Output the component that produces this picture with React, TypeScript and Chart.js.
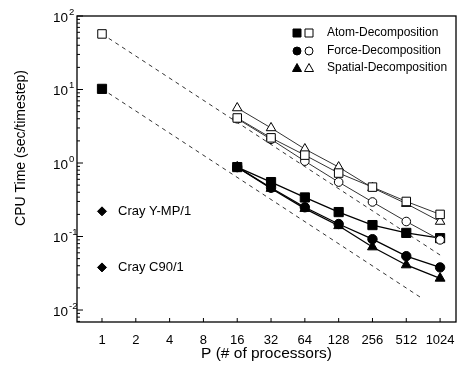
import React, { useEffect, useRef } from "react";
import { Chart, registerables } from "chart.js";
Chart.register(...registerables);

// ---- data ----
const procs = [16, 32, 64, 128, 256, 512, 1024];
const atomSmall = [0.88, 0.55, 0.34, 0.215, 0.143, 0.112, 0.095];
const forceSmall = [0.88, 0.46, 0.25, 0.148, 0.092, 0.054, 0.038];
const spatialSmall = [0.88, 0.45, 0.24, 0.14, 0.072, 0.041, 0.027];
const atomLarge = [4.1, 2.2, 1.28, 0.73, 0.47, 0.3, 0.2];
const forceLarge = [4.0, 2.1, 1.06, 0.55, 0.295, 0.16, 0.09];
const spatialLarge = [5.6, 3.0, 1.55, 0.88, 0.46, 0.28, 0.16];
const serialProcs = [1];
const atomSmallSerial = [10.2];
const atomLargeSerial = [57];
const crayLabels = ["Cray Y-MP/1", "Cray C90/1"];
const crayProcs = [1, 1];
const crayTimes = [0.22, 0.038];
const idealLargeP = [1, 1024];
const idealLargeT = [57, 0.056];
const idealSmallP = [1, 680];
const idealSmallT = [10.2, 0.015];
const xTicks = [1, 2, 4, 8, 16, 32, 64, 128, 256, 512, 1024];
const yTickExps = [-2, -1, 0, 1, 2];
const legendLabels = ["Atom-Decomposition", "Force-Decomposition", "Spatial-Decomposition"];
const legendStyles = ["rect", "circle", "triangle"];
const xTitle = "P (# of processors)";
const yTitle = "CPU Time (sec/timestep)";

const FONT = '"Liberation Sans", Arial, Helvetica, sans-serif';

const pts = (xs: number[], ys: number[]) => xs.map((x, i) => ({ x, y: ys[i] }));

function drawMarker(ctx: CanvasRenderingContext2D, style: string, x: number, y: number, filled: boolean) {
  ctx.save();
  ctx.beginPath();
  if (style === "rect") {
    ctx.rect(x - 4, y - 4, 8, 8);
  } else if (style === "circle") {
    ctx.arc(x, y, 4, 0, Math.PI * 2);
  } else {
    ctx.moveTo(x, y - 4.5);
    ctx.lineTo(x + 4.5, y + 3.5);
    ctx.lineTo(x - 4.5, y + 3.5);
    ctx.closePath();
  }
  ctx.fillStyle = filled ? "#000" : "#fff";
  ctx.fill();
  ctx.lineWidth = 1;
  ctx.strokeStyle = "#000";
  ctx.stroke();
  ctx.restore();
}

const decor = {
  id: "decor",
  afterDraw(chart: any) {
    const { ctx, chartArea } = chart;
    const xs = chart.scales.x;
    const ys = chart.scales.y;
    const { left, right, top, bottom } = chartArea;
    ctx.save();
    // frame
    ctx.strokeStyle = "#000";
    ctx.lineWidth = 1.3;
    ctx.strokeRect(left, top, right - left, bottom - top);
    // y ticks (inside)
    ctx.lineWidth = 1;
    ctx.beginPath();
    for (let e = -3; e <= 2; e++) {
      for (let m = 1; m <= 9; m++) {
        const v = m * Math.pow(10, e);
        if (v < ys.min || v > ys.max) continue;
        const py = ys.getPixelForValue(v);
        const len = m === 1 ? 6 : 3;
        ctx.moveTo(left, py);
        ctx.lineTo(left + len, py);
      }
    }
    // x ticks (inside)
    for (const t of xTicks) {
      const px = xs.getPixelForValue(t);
      ctx.moveTo(px, bottom);
      ctx.lineTo(px, bottom - 4);
    }
    ctx.stroke();

    // y tick labels with superscripts
    ctx.fillStyle = "#000";
    for (const e of yTickExps) {
      const py = ys.getPixelForValue(Math.pow(10, e));
      ctx.font = `13.5px ${FONT}`;
      ctx.textAlign = "right";
      ctx.textBaseline = "middle";
      ctx.fillText("10", left - 9, py + 2);
      ctx.font = `9.5px ${FONT}`;
      ctx.textAlign = "left";
      ctx.fillText(String(e), left - 8, py - 4);
    }

    // y title
    ctx.save();
    ctx.translate(21, 148);
    ctx.rotate(-Math.PI / 2);
    ctx.font = `14px ${FONT}`;
    ctx.textAlign = "center";
    ctx.textBaseline = "middle";
    ctx.fillText(yTitle, 0, 0);
    ctx.restore();

    // legend
    const rows = [33, 51, 68];
    ctx.font = `12px ${FONT}`;
    ctx.textAlign = "left";
    ctx.textBaseline = "middle";
    legendLabels.forEach((lab, i) => {
      drawMarker(ctx, legendStyles[i], 297, rows[i], true);
      drawMarker(ctx, legendStyles[i], 309, rows[i], false);
      ctx.fillStyle = "#000";
      ctx.fillText(lab, 327, rows[i]);
    });

    // Cray labels
    ctx.font = `13px ${FONT}`;
    crayLabels.forEach((lab, i) => {
      const px = xs.getPixelForValue(crayProcs[i]);
      const py = ys.getPixelForValue(crayTimes[i]);
      ctx.fillText(lab, px + 16, py);
    });
    ctx.restore();
  },
};

export default function App() {
  const ref = useRef<HTMLCanvasElement | null>(null);
  useEffect(() => {
    if (!ref.current) return;
    const dash = {
      type: "line" as const,
      borderColor: "#333",
      borderWidth: 1,
      borderDash: [4, 4],
      pointRadius: 0,
      showLine: true,
      fill: false,
    };
    const series = (data: number[], style: string, filled: boolean, radius: number) => ({
      data: pts(procs, data),
      showLine: true,
      borderColor: filled ? "#000" : "#333",
      borderWidth: filled ? 1.3 : 1,
      pointStyle: style,
      pointRadius: radius,
      pointBackgroundColor: filled ? "#000" : "#fff",
      pointBorderColor: "#000",
      pointBorderWidth: 1,
      fill: false,
    });
    const chart = new Chart(ref.current, {
      type: "scatter",
      data: {
        datasets: [
          series(atomLarge, "rect", false, 6),
          series(forceLarge, "circle", false, 4.3),
          series(spatialLarge, "triangle", false, 5.5),
          series(atomSmall, "rect", true, 6.5),
          series(forceSmall, "circle", true, 4.7),
          series(spatialSmall, "triangle", true, 5.7),
          {
            data: pts(serialProcs, atomLargeSerial),
            pointStyle: "rect",
            pointRadius: 6,
            pointBackgroundColor: "#fff",
            pointBorderColor: "#000",
            pointBorderWidth: 1,
          },
          {
            data: pts(serialProcs, atomSmallSerial),
            pointStyle: "rect",
            pointRadius: 6.5,
            pointBackgroundColor: "#000",
            pointBorderColor: "#000",
          },
          {
            data: pts(crayProcs, crayTimes),
            pointStyle: "rectRot",
            pointRadius: 4.5,
            pointBackgroundColor: "#000",
            pointBorderColor: "#000",
          },
          { ...dash, data: pts(idealLargeP, idealLargeT) },
          { ...dash, data: pts(idealSmallP, idealSmallT) },
        ] as any,
      },
      options: {
        responsive: false,
        animation: false,
        events: [],
        layout: { padding: { top: 16, right: 10, left: 0, bottom: 0 } },
        plugins: { legend: { display: false }, tooltip: { enabled: false } },
        scales: {
          x: {
            type: "logarithmic",
            min: 0.599,
            max: 1419,
            bounds: "data",
            grid: { display: false, drawTicks: false },
            border: { display: false },
            afterBuildTicks: (s: any) => {
              s.ticks = xTicks.map((v) => ({ value: v }));
            },
            afterFit: (s: any) => {
              s.height = 48;
            },
            ticks: {
              autoSkip: false,
              maxRotation: 0,
              padding: 11,
              color: "#000",
              font: { family: FONT, size: 13 },
              callback: (v: any) => String(v),
            },
            title: {
              display: true,
              text: xTitle,
              color: "#000",
              font: { family: FONT, size: 15.5 },
              padding: { top: 0, bottom: 7 },
            },
          },
          y: {
            type: "logarithmic",
            min: 0.00687,
            max: 100,
            bounds: "data",
            grid: { display: false, drawTicks: false },
            border: { display: false },
            ticks: { display: false },
            afterFit: (s: any) => {
              s.width = 77;
            },
          },
        },
      } as any,
      plugins: [decor],
    });
    return () => chart.destroy();
  }, []);
  return (
    <div style={{ position: "absolute", left: 0, top: 0, width: 466, height: 370, background: "#fff" }}>
      <canvas ref={ref} width={466} height={370} style={{ display: "block" }} />
    </div>
  );
}
